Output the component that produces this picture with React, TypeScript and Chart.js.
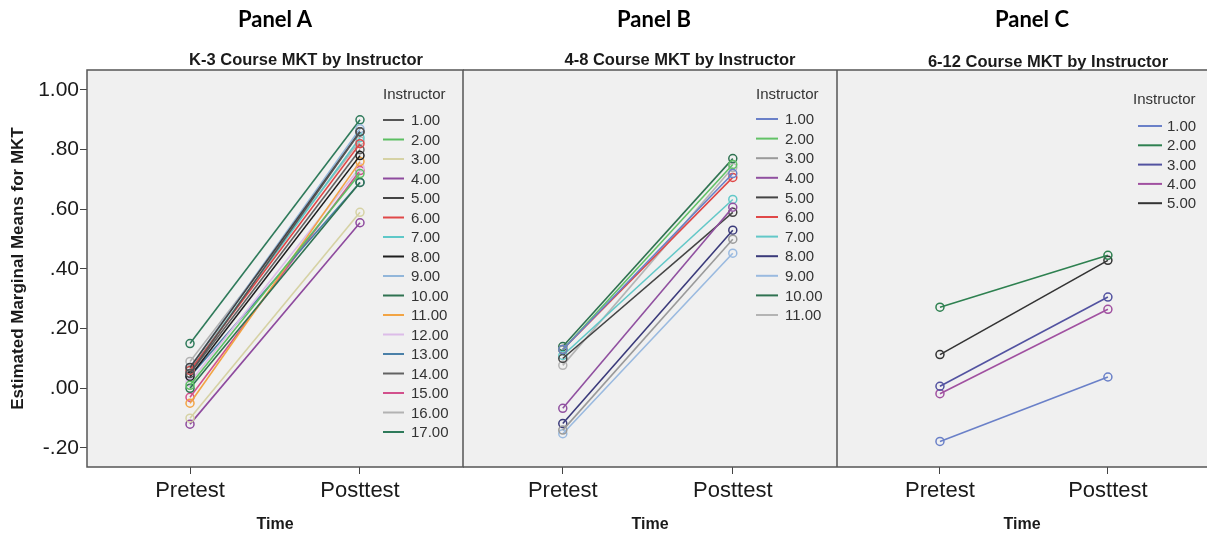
import React, { useEffect, useRef } from 'react';
import { Chart, registerables } from 'chart.js';

Chart.register(...registerables);

// ---------- data ----------
const timeLabels = ['Pretest', 'Posttest'];
const yTickValues = [-0.2, 0, 0.2, 0.4, 0.6, 0.8, 1.0];

const instructorsA = ['1.00', '2.00', '3.00', '4.00', '5.00', '6.00', '7.00', '8.00', '9.00', '10.00', '11.00', '12.00', '13.00', '14.00', '15.00', '16.00', '17.00'];
const preA = [0.05, 0.01, -0.10, -0.12, 0.07, 0.06, 0.06, 0.04, 0.07, 0.0, -0.05, 0.02, 0.04, 0.05, -0.03, 0.09, 0.15];
const postA = [0.86, 0.72, 0.59, 0.555, 0.86, 0.82, 0.84, 0.78, 0.87, 0.69, 0.76, 0.74, 0.69, 0.80, 0.73, 0.83, 0.90];
const colorsA = ['#555555', '#5cbf62', '#d6d2a4', '#8e4a9e', '#444444', '#e04848', '#5ec8c8', '#1e1e1e', '#92b6da', '#2f7251', '#f2a444', '#dcbce8', '#4a80a8', '#626262', '#d2508c', '#b2b2b2', '#2e7a5a'];

const instructorsB = ['1.00', '2.00', '3.00', '4.00', '5.00', '6.00', '7.00', '8.00', '9.00', '10.00', '11.00'];
const preB = [0.13, 0.13, -0.14, -0.067, 0.10, 0.13, 0.11, -0.118, -0.152, 0.14, 0.077];
const postB = [0.72, 0.75, 0.50, 0.607, 0.59, 0.707, 0.633, 0.53, 0.453, 0.77, 0.74];
const colorsB = ['#6a80c8', '#62c266', '#9a9a9a', '#9050a0', '#444444', '#e04848', '#62c8c8', '#3a3a7a', '#9abae0', '#2f7251', '#b4b4b4'];

const instructorsC = ['1.00', '2.00', '3.00', '4.00', '5.00'];
const preC = [-0.178, 0.272, 0.007, -0.018, 0.113];
const postC = [0.038, 0.446, 0.306, 0.265, 0.429];
const colorsC = ['#6a80c8', '#2e8050', '#5252a0', '#a050a0', '#333333'];

// ---------- helpers ----------
const Y_MIN = -0.2637;
const Y_MAX = 1.067;

const fmtY = (v: number) => {
  const s = Number(v).toFixed(2);
  return s.replace(/^(-?)0\./, '$1.');
};

const plotFramePlugin = {
  id: 'plotFrame',
  beforeDraw(chart: any) {
    const { ctx, chartArea: a } = chart;
    ctx.save();
    ctx.fillStyle = '#f0f0f0';
    ctx.fillRect(a.left, a.top, a.right - a.left, a.bottom - a.top);
    ctx.restore();
  },
  afterDraw(chart: any, _args: any, opts: any) {
    const { ctx, chartArea: a } = chart;
    ctx.save();
    ctx.strokeStyle = '#555555';
    ctx.lineWidth = 1.5;
    ctx.beginPath();
    if (opts.right !== false) {
      ctx.rect(a.left, a.top, a.right - a.left, a.bottom - a.top);
    } else {
      ctx.moveTo(a.right + 2, a.top);
      ctx.lineTo(a.left, a.top);
      ctx.lineTo(a.left, a.bottom);
      ctx.lineTo(a.right + 2, a.bottom);
    }
    ctx.stroke();
    ctx.restore();

    // inside legend
    const lg = opts.legend;
    if (!lg) return;
    ctx.save();
    ctx.fillStyle = '#333333';
    ctx.font = '15px "Liberation Sans", Arial, sans-serif';
    ctx.textBaseline = 'middle';
    ctx.textAlign = 'left';
    ctx.fillText('Instructor', lg.headerX, lg.headerY);
    chart.data.datasets.forEach((ds: any, i: number) => {
      const y = lg.itemY + i * lg.spacing;
      ctx.strokeStyle = ds.borderColor;
      ctx.lineWidth = 2;
      ctx.beginPath();
      ctx.moveTo(lg.lineX, y);
      ctx.lineTo(lg.lineX + lg.lineLen, y);
      ctx.stroke();
      ctx.fillStyle = '#333333';
      ctx.fillText(ds.label, lg.textX, y + 1);
    });
    ctx.restore();
  },
};

function buildConfig(p: any) {
  const datasets = p.labels.map((lab: string, i: number) => ({
    label: lab,
    data: [
      { x: 0, y: p.pre[i] },
      { x: 1, y: p.post[i] },
    ],
    borderColor: p.colors[i],
    pointBorderColor: p.colors[i],
    backgroundColor: 'rgba(0,0,0,0)',
    pointBackgroundColor: 'rgba(0,0,0,0)',
    borderWidth: 1.6,
    pointRadius: 4,
    pointBorderWidth: 1.5,
    pointStyle: 'circle',
    tension: 0,
  }));
  return {
    type: 'line',
    data: { datasets },
    plugins: [plotFramePlugin],
    options: {
      animation: false,
      responsive: false,
      maintainAspectRatio: false,
      layout: { autoPadding: false, padding: { top: 70, left: 0, right: p.padRight, bottom: 0 } },
      plugins: {
        legend: { display: false },
        tooltip: { enabled: false },
        title: { display: false },
        plotFrame: { right: p.frameRight, legend: p.legend },
      },
      scales: {
        x: {
          type: 'linear',
          min: p.xMin,
          max: p.xMax,
          afterBuildTicks: (s: any) => {
            s.ticks = timeLabels.map((_, i) => ({ value: i }));
          },
          afterFit: (s: any) => {
            s.height = 68;
            s.paddingLeft = 0;
            s.paddingRight = 0;
          },
          ticks: {
            callback: (v: any) => timeLabels[v] ?? '',
            color: '#1a1a1a',
            font: { size: 22, family: '"Liberation Sans", Arial, sans-serif' },
            padding: 4,
            maxRotation: 0,
            autoSkip: false,
          },
          grid: { display: true, drawOnChartArea: false, drawTicks: true, tickLength: 7, color: '#444444', lineWidth: 1 },
          border: { display: false },
          title: {
            display: true,
            text: 'Time',
            color: '#1a1a1a',
            font: { size: 16, weight: 'bold', family: '"Liberation Sans", Arial, sans-serif' },
            padding: { top: 0, bottom: 1 },
          },
        },
        y: {
          type: 'linear',
          display: p.showY,
          min: Y_MIN,
          max: Y_MAX,
          afterBuildTicks: (s: any) => {
            s.ticks = yTickValues.map((v) => ({ value: v }));
          },
          afterFit: (s: any) => {
            s.width = p.showY ? 87 : 0;
            s.paddingTop = 0;
            s.paddingBottom = 0;
          },
          ticks: {
            callback: (v: any) => fmtY(v),
            color: '#1a1a1a',
            font: { size: 21, family: '"Liberation Sans", Arial, sans-serif' },
            padding: 1,
          },
          grid: { display: true, drawOnChartArea: false, drawTicks: true, tickLength: 7, color: '#444444', lineWidth: 1 },
          border: { display: false },
          title: {
            display: true,
            text: 'Estimated Marginal Means for MKT',
            color: '#1a1a1a',
            font: { size: 17, weight: 'bold', family: '"Liberation Sans", Arial, sans-serif' },
            padding: { top: 8, bottom: 0 },
          },
        },
      },
    },
  };
}

const panels = [
  {
    key: 'A', left: 0, width: 464, padRight: 1, showY: true, frameRight: true,
    xMin: -0.606, xMax: 1.606,
    labels: instructorsA, pre: preA, post: postA, colors: colorsA,
    legend: { headerX: 383, headerY: 95, lineX: 383, lineLen: 21, textX: 411, itemY: 120, spacing: 19.5 },
  },
  {
    key: 'B', left: 463, width: 374, padRight: 0, showY: false, frameRight: true,
    xMin: -0.587, xMax: 1.613,
    labels: instructorsB, pre: preB, post: postB, colors: colorsB,
    legend: { headerX: 293, headerY: 95, lineX: 293, lineLen: 22, textX: 322, itemY: 119, spacing: 19.6 },
  },
  {
    key: 'C', left: 837, width: 370, padRight: 0, showY: false, frameRight: false,
    xMin: -0.613, xMax: 1.59,
    labels: instructorsC, pre: preC, post: postC, colors: colorsC,
    legend: { headerX: 296, headerY: 100, lineX: 301, lineLen: 24, textX: 330, itemY: 126, spacing: 19.3 },
  },
];

const panelTitles = ['Panel A', 'Panel B', 'Panel C'];
const panelTitleX = [275, 654, 1032];
const subTitles = ['K-3 Course MKT by Instructor', '4-8 Course MKT by Instructor', '6-12 Course MKT by Instructor'];
const subTitleX = [306, 680, 1048];
const subTitleY = [59, 59, 61];

function Panel({ p }: { p: any }) {
  const ref = useRef<HTMLCanvasElement | null>(null);
  useEffect(() => {
    if (!ref.current) return;
    const chart = new Chart(ref.current, buildConfig(p) as any);
    return () => chart.destroy();
  }, [p]);
  return (
    <canvas
      ref={ref}
      width={p.width}
      height={535}
      style={{ position: 'absolute', left: p.left, top: 0, width: p.width, height: 535 }}
    />
  );
}

export default function App() {
  return (
    <div style={{ position: 'absolute', left: 0, top: 0, width: 1207, height: 535, background: '#ffffff', overflow: 'hidden' }}>
      {panels.map((p) => (
        <Panel key={p.key} p={p} />
      ))}
      {panelTitles.map((t, i) => (
        <div
          key={t}
          style={{
            position: 'absolute', left: panelTitleX[i], top: 19, transform: 'translate(-50%, -50%)',
            font: 'bold 22px Lato, "Open Sans", sans-serif', lineHeight: '22px', color: '#000', whiteSpace: 'nowrap',
          }}
        >
          {t}
        </div>
      ))}
      {subTitles.map((t, i) => (
        <div
          key={t}
          style={{
            position: 'absolute', left: subTitleX[i], top: subTitleY[i], transform: 'translate(-50%, -50%)',
            font: 'bold 16.5px "Liberation Sans", Arial, sans-serif', lineHeight: '17px', color: '#1a1a1a', whiteSpace: 'nowrap',
          }}
        >
          {t}
        </div>
      ))}
    </div>
  );
}
